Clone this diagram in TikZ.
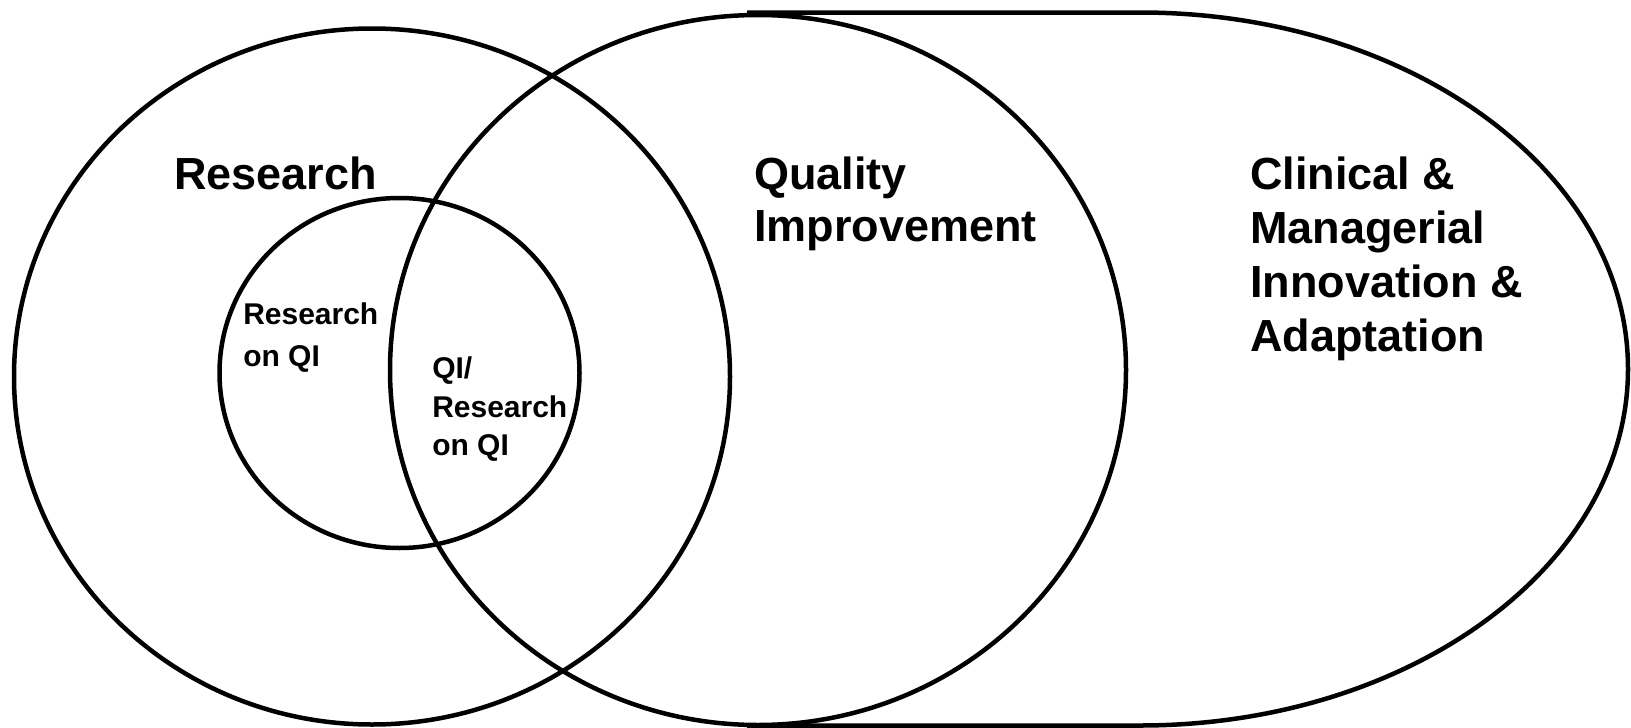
\documentclass[tikz,border=0pt]{standalone}
\usepackage{fontspec}
\setmainfont{Liberation Sans}
\begin{document}
\begin{tikzpicture}[x=1pt,y=-1pt,line width=4.5pt,
  biglabel/.style={anchor=base west,inner sep=0pt,align=left,font=\fontsize{45}{54}\selectfont\bfseries},
  smalllabel/.style={anchor=base west,inner sep=0pt,align=left,font=\fontsize{30}{38.5}\selectfont\bfseries}]
\useasboundingbox(0,0)rectangle(1631,728);
\draw(372,376.5)ellipse[x radius=358,y radius=348];
\draw(758,370)ellipse[x radius=368,y radius=355];
\draw(399.5,373)ellipse[x radius=180,y radius=175];
\draw(747,12.5)--(1140,12.5)arc[start angle=-90,end angle=90,x radius=488,y radius=356.5]--(747,725.5);
% base anchor sits on the last line
\node[biglabel](research)at(172,189){Research};
\node[biglabel](quality)at(752,241){Quality\\[-2pt]Improvement};
\node[biglabel](clinical)at(1248,351){Clinical \&\\Managerial\\Innovation \&\\Adaptation};
\node[smalllabel](onqi)at(241,366){Research\\[3pt]on QI};
\node[smalllabel](overlap)at(430,455.5){QI/\\Research\\on QI};
\end{tikzpicture}
\end{document}
